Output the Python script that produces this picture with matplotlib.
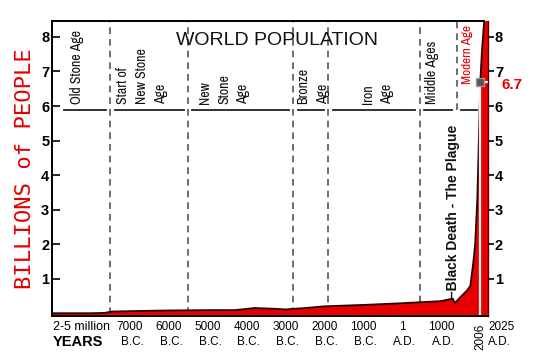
import matplotlib
matplotlib.use("Agg")
import matplotlib.pyplot as plt
from matplotlib import font_manager

# =========================================================
# DATOS
# =========================================================

# Población mundial (miles de millones)
anios = [-9000, -8000, -7650, -7450, -7000, -6000, -5000, -4300, -3800, -3300,
         -3000, -2500, -2000, -1000, 1, 500, 1000, 1200, 1300, 1350, 1400,
         1500, 1660, 1750, 1825, 1875, 1930, 1970, 2006, 2050, 2110, 2205]
poblacion = [0.01, 0.01, 0.02, 0.06, 0.07, 0.09, 0.10, 0.10, 0.16, 0.14,
             0.12, 0.16, 0.21, 0.25, 0.30, 0.33, 0.36, 0.41, 0.43, 0.31, 0.36,
             0.48, 0.66, 0.80, 1.45, 2.00, 3.30, 5.00, 6.70, 7.60, 8.50, 9.50]

# Etiquetas del eje x
anios_ticks = [-7000, -6000, -5000, -4000, -3000, -2000, -1000, 1, 1000]
etiquetas_anio = ["7000", "6000", "5000", "4000", "3000", "2000", "1000", "1", "1000"]
etiquetas_era = ["B.C.", "B.C.", "B.C.", "B.C.", "B.C.", "B.C.", "B.C.", "A.D.", "A.D."]

# Límites entre edades (líneas discontinuas)
limites_eras = [-7500, -5500, -2800, -1900, 450, 1400]

# Nombres de las edades (cada columna de texto rotado)
textos_eras = ["Old Stone Age", "Start of", "New Stone", "Age", "New", "Stone", "Age",
               "Bronze", "Age", "Iron", "Age", "Middle Ages"]

anio_actual = 2006
poblacion_actual = 6.7

# =========================================================
# FUENTES
# =========================================================

nombres = {f.name for f in font_manager.fontManager.ttflist}
fuente_estrecha = "Archivo Narrow" if "Archivo Narrow" in nombres else "Liberation Sans"
plt.rcParams["font.family"] = ["Liberation Sans", "DejaVu Sans"]

rojo = "#e60000"

# =========================================================
# GRÁFICA
# =========================================================

fig = plt.figure(figsize=(5.45, 3.59), dpi=100)
ax = fig.add_axes([52 / 545, 43 / 359, 436 / 545, 295 / 359])
ax.set_xlim(-9000, 2205)
ax.set_ylim(-0.07, 8.46)

# Relleno de población
ax.fill_between(anios, poblacion, -1, color=rojo, linewidth=0, zorder=3)
ax.plot(anios, poblacion, color="#2a0000", linewidth=1.3, zorder=3.2)

# Líneas discontinuas de las edades
for i, lim in enumerate(limites_eras):
    y0 = 5.9 if i == len(limites_eras) - 1 else 0
    ax.plot([lim, lim], [y0, 8.46], color="#555555", linewidth=1.2,
            dashes=(4, 3), zorder=2)

# Línea horizontal partida
cortes = [-8700] + limites_eras + [1930]
for i in range(len(cortes) - 1):
    x0 = cortes[i] + (0 if i == 0 else 110)
    x1 = cortes[i + 1] - (0 if i == len(cortes) - 2 else 110)
    ax.plot([x0, x1], [5.9, 5.9], color="#222222", linewidth=1.3, zorder=2)

# Textos de las edades
pos_eras = [-8360, -7180, -6690, -6200, -5080, -4560, -4080, -2540, -2030, -870, -385, 770]
for txt, x in zip(textos_eras, pos_eras):
    ax.text(x, 6.07, txt, rotation=90, ha="center", va="bottom",
            fontsize=10, family=fuente_estrecha, color="#111111")
ax.text(1667, 8.35, "Modern Age", rotation=90, ha="center", va="top",
        fontsize=9.5, family=fuente_estrecha, color=rojo)

ax.text(0.516, 0.935, "WORLD POPULATION", transform=ax.transAxes,
        ha="center", va="center", fontsize=14, color="#111111")

ax.text(1308, 0.45, "–Black Death - The Plague", rotation=90, ha="center",
        va="bottom", fontsize=10, fontweight="bold", color="#111111", zorder=5)

# Marca de 2006
ax.plot([anio_actual, anio_actual], [-0.07, poblacion_actual], color="#fff4f4",
        linewidth=1.6, zorder=4)
ax.plot([anio_actual, 2520], [poblacion_actual, poblacion_actual], color="white",
        linewidth=1.6, zorder=4, clip_on=False)
ax.plot([anio_actual], [poblacion_actual], marker="s", markersize=6,
        markerfacecolor="#555555", markeredgecolor="#999999", zorder=5, clip_on=False)
ax.text(2540, 6.62, "6.7", ha="left", va="center", fontsize=11,
        fontweight="bold", color=rojo, zorder=6)

# Ejes y
ax.set_yticks(range(1, 9))
ax.set_yticklabels([str(v) for v in range(1, 9)], fontweight="bold", fontsize=10.5)
ax.tick_params(axis="y", direction="in", length=6, width=1.2, pad=2)
ax2 = ax.twinx()
ax2.set_ylim(ax.get_ylim())
ax2.set_yticks(range(1, 9))
ax2.set_yticklabels([str(v) for v in range(1, 9)], fontweight="bold", fontsize=10.5)
ax2.tick_params(axis="y", direction="out", length=4, width=1.2, pad=1)
for s in ax2.spines.values():
    s.set_visible(False)

ax.set_ylabel("BILLIONS of PEOPLE", family="DejaVu Sans Mono", fontsize=16,
              color=rojo, labelpad=4)

# Eje x con etiquetas de texto
ax.set_xticks([])
tr = ax.get_xaxis_transform()
for x, a, e in zip(anios_ticks, etiquetas_anio, etiquetas_era):
    ax.text(x, -0.037, a, transform=tr, ha="center", va="center", fontsize=8.5)
    ax.text(x + 60, -0.088, e, transform=tr, ha="center", va="center", fontsize=8.5)
ax.text(0.002, -0.037, "2-5 million", transform=ax.transAxes, ha="left",
        va="center", fontsize=9)
ax.text(0.002, -0.088, "YEARS", transform=ax.transAxes, ha="left",
        va="center", fontsize=10.5, fontweight="bold")
ax.text(anio_actual, -0.07, "2006", transform=tr, rotation=90, ha="center",
        va="center", fontsize=8.5)
ax.text(1.03, -0.037, "2025", transform=ax.transAxes, ha="center", va="center",
        fontsize=8.5)
ax.text(1.026, -0.088, "A.D.", transform=ax.transAxes, ha="center", va="center",
        fontsize=8.5)

for lado in ["left", "bottom", "top"]:
    ax.spines[lado].set_linewidth(1.4)
    ax.spines[lado].set_zorder(4)
ax.spines["top"].set_bounds(-9000, 2110)
ax.spines["right"].set_color("#5a0000")
ax.spines["right"].set_linewidth(1.0)
ax.spines["right"].set_zorder(4)

fig.savefig("out.png", dpi=100)
